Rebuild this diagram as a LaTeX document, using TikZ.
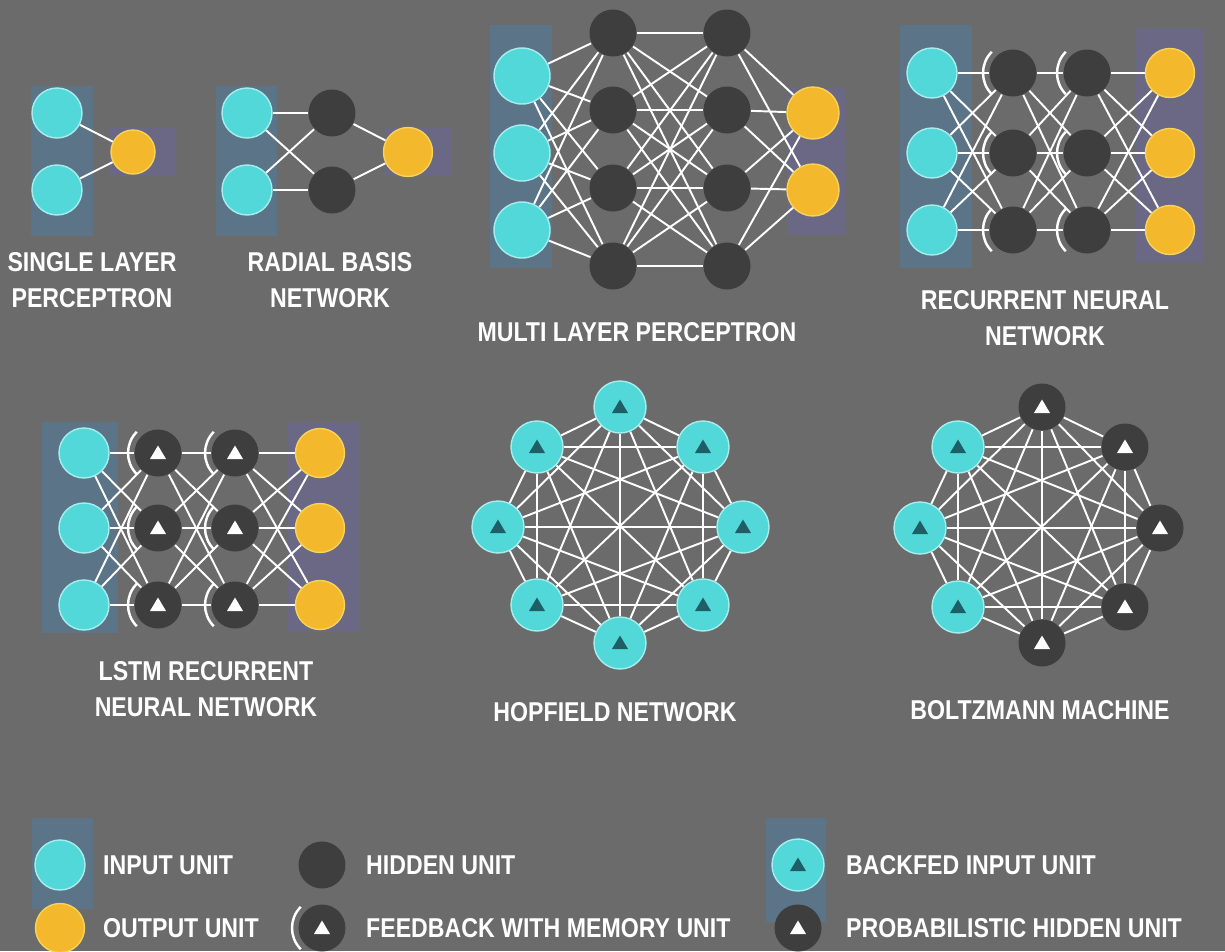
\documentclass[tikz,border=0pt]{standalone}
\usepackage{fontspec}
\setmainfont{Liberation Sans}[FakeStretch=0.85]
\usetikzlibrary{positioning}
\definecolor{bgray}{HTML}{6B6B6B}
\definecolor{incyan}{HTML}{52D8D8}
\definecolor{inrim}{HTML}{A6EEEE}
\definecolor{outorange}{HTML}{F4B82C}
\definecolor{outrim}{HTML}{F6D45A}
\definecolor{hiddark}{HTML}{3E3E3E}
\definecolor{tealtri}{HTML}{1E5F66}
\definecolor{patchin}{HTML}{5B7488}
\definecolor{patchout}{HTML}{6A6884}

\pgfdeclarelayer{bg}
\pgfdeclarelayer{wires}
\pgfsetlayers{bg,wires,main}

\tikzset{
  unit/.style={circle, inner sep=0pt, line width=0.8pt},
  inunit/.style={unit, fill=incyan, draw=inrim, minimum size=1cm},
  outunit/.style={unit, fill=outorange, draw=outrim, minimum size=0.98cm},
  hidunit/.style={unit, fill=hiddark, minimum size=0.94cm},
  tri/.style={path picture={\fill[#1] ([yshift=0.15cm]path picture bounding box.center)
      -- ++(-0.16cm,-0.27cm) -- ++(0.32cm,0) -- cycle;}},
  probunit/.style={hidunit, tri=white},
  backunit/.style={inunit, minimum size=1.04cm, tri=tealtri},
  wire/.style={white, line width=1.1pt},
  memarc/.style={white, line width=1.4pt},
  netlabel/.style={text=white, font=\fontsize{15.5}{20.4}\selectfont\bfseries, align=center},
  keylabel/.style={netlabel, anchor=west},
}
\newcommand{\drawmem}[1]{\draw[memarc] (#1.center) ++(135:0.6cm) arc[start angle=135, end angle=225, radius=0.6cm];}

\begin{document}
\begin{tikzpicture}[x=0.02cm, y=-0.02cm]
  \useasboundingbox (0,0) rectangle (1225,951);
  \begin{pgfonlayer}{bg}
    \fill[bgray] (0,0) rectangle (1225,951);
    % colour patches behind the unit columns
    \fill[patchin] (31,86) rectangle (93,236);
    \fill[patchout] (110,128) rectangle (175,176);
    \fill[patchin] (216,86) rectangle (277,236);
    \fill[patchout] (385,128) rectangle (452,176);
    \fill[patchin] (490,25) rectangle (552,268);
    \fill[patchout] (787,88) rectangle (845,235);
    \fill[patchin] (900,25) rectangle (972,268);
    \fill[patchout] (1136,28) rectangle (1204,262);
    \fill[patchin] (42,422) rectangle (118,633);
    \fill[patchout] (288,422) rectangle (360,632);
    \fill[patchin] (32,818) rectangle (93,909);
    \fill[patchin] (766,818) rectangle (826,922);
  \end{pgfonlayer}

  % Single layer perceptron
  \node[inunit] (slpi1) at (57,113) {};
  \node[inunit] (slpi2) at (57,190) {};
  \node[outunit, minimum size=0.88cm] (slpo) at (133,152) {};
  \node[netlabel] (slplab) at (92,280) {SINGLE LAYER\\PERCEPTRON};

  % Radial basis network
  \foreach \r/\y in {1/113, 2/190} {
    \node[inunit] (rbfi\r) at (247,\y) {};
    \node[hidunit] (rbfh\r) at (332,\y) {};
  }
  \node[outunit] (rbfo) at (408,152) {};
  \node[netlabel] (rbflab) at (330,280) {RADIAL BASIS\\NETWORK};

  % Multi layer perceptron
  \foreach \r/\y in {1/76, 2/153, 3/230}
    \node[inunit, minimum size=1.12cm] (mlpi\r) at (522,\y) {};
  \foreach \r/\y in {1/33, 2/110, 3/188, 4/266} {
    \node[hidunit] (mlpa\r) at (613,\y) {};
    \node[hidunit] (mlpb\r) at (727,\y) {};
  }
  \foreach \r/\y in {1/113, 2/190}
    \node[outunit, minimum size=1.04cm] (mlpo\r) at (813,\y) {};
  \node[netlabel] (mlplab) at (637,332) {MULTI LAYER PERCEPTRON};

  % Recurrent neural network
  \foreach \r/\y in {1/73, 2/153, 3/230} {
    \node[inunit] (rnni\r) at (932,\y) {};
    \node[hidunit] (rnna\r) at (1013,\y) {};
    \node[hidunit] (rnnb\r) at (1087,\y) {};
    \node[outunit] (rnno\r) at (1170,\y) {};
  }
  \node[netlabel] (rnnlab) at (1045,318) {RECURRENT NEURAL\\NETWORK};

  % LSTM recurrent neural network
  \foreach \r/\y in {1/453, 2/528, 3/605} {
    \node[inunit] (lsti\r) at (84,\y) {};
    \node[probunit] (lsta\r) at (158,\y) {};
    \node[probunit] (lstb\r) at (235,\y) {};
    \node[outunit] (lsto\r) at (320,\y) {};
  }
  \node[netlabel] (lstlab) at (206,689) {LSTM RECURRENT\\NEURAL NETWORK};

  % Hopfield network
  \foreach \n/\x/\y in {1/620/407, 2/703/447, 3/743/527, 4/703/605, 5/620/643, 6/537/605, 7/498/527, 8/537/447}
    \node[backunit] (hop\n) at (\x,\y) {};
  \node[netlabel] (hoplab) at (615,712) {HOPFIELD NETWORK};

  % Boltzmann machine
  \foreach \n/\x/\y in {1/1042/407, 2/1125/447, 3/1160/528, 4/1125/607, 5/1042/643}
    \node[probunit] (bm\n) at (\x,\y) {};
  \foreach \n/\x/\y in {6/958/607, 7/920/528, 8/958/447}
    \node[backunit] (bm\n) at (\x,\y) {};
  \node[netlabel] (bmlab) at (1040,710) {BOLTZMANN MACHINE};

  % Legend
  \node[inunit] (keyin) at (60,865) {};
  \node[keylabel] (keyintxt) at (97,865) {INPUT UNIT};
  \node[outunit] (keyout) at (60,928) {};
  \node[keylabel] (keyouttxt) at (97,928) {OUTPUT UNIT};
  \node[hidunit] (keyhid) at (322,865) {};
  \node[keylabel] (keyhidtxt) at (360,865) {HIDDEN UNIT};
  \node[probunit] (keymem) at (322,928) {};
  \node[keylabel] (keymemtxt) at (360,928) {FEEDBACK WITH MEMORY UNIT};
  \node[backunit] (keyback) at (798,865) {};
  \node[keylabel] (keybacktxt) at (840,865) {BACKFED INPUT UNIT};
  \node[probunit] (keyprob) at (798,928) {};
  \node[keylabel] (keyprobtxt) at (840,928) {PROBABILISTIC HIDDEN UNIT};

  % Connections
  \begin{pgfonlayer}{wires}
    \foreach \i in {1,2} \draw[wire] (slpi\i) -- (slpo);
    \foreach \i in {1,2} {
      \foreach \j in {1,2} \draw[wire] (rbfi\i) -- (rbfh\j);
      \draw[wire] (rbfh\i) -- (rbfo);
    }
    \foreach \i in {1,2,3} \foreach \j in {1,...,4} \draw[wire] (mlpi\i) -- (mlpa\j);
    \foreach \i in {1,...,4} \foreach \j in {1,...,4} \draw[wire] (mlpa\i) -- (mlpb\j);
    \foreach \i in {1,...,4} \foreach \j in {1,2} \draw[wire] (mlpb\i) -- (mlpo\j);
    \foreach \i in {1,2,3} \foreach \j in {1,2,3} {
      \draw[wire] (rnni\i) -- (rnna\j);
      \draw[wire] (rnna\i) -- (rnnb\j);
      \draw[wire] (rnnb\i) -- (rnno\j);
      \draw[wire] (lsti\i) -- (lsta\j);
      \draw[wire] (lsta\i) -- (lstb\j);
      \draw[wire] (lstb\i) -- (lsto\j);
    }
    \foreach \i in {1,...,8} \foreach \j in {1,...,8} {
      \ifnum\j>\i
        \draw[wire] (hop\i) -- (hop\j);
        \draw[wire] (bm\i) -- (bm\j);
      \fi
    }
  \end{pgfonlayer}

  % Memory feedback arcs
  \foreach \r in {1,2,3} {
    \drawmem{rnna\r} \drawmem{rnnb\r}
    \drawmem{lsta\r} \drawmem{lstb\r}
  }
  \drawmem{keymem}
\end{tikzpicture}
\end{document}
